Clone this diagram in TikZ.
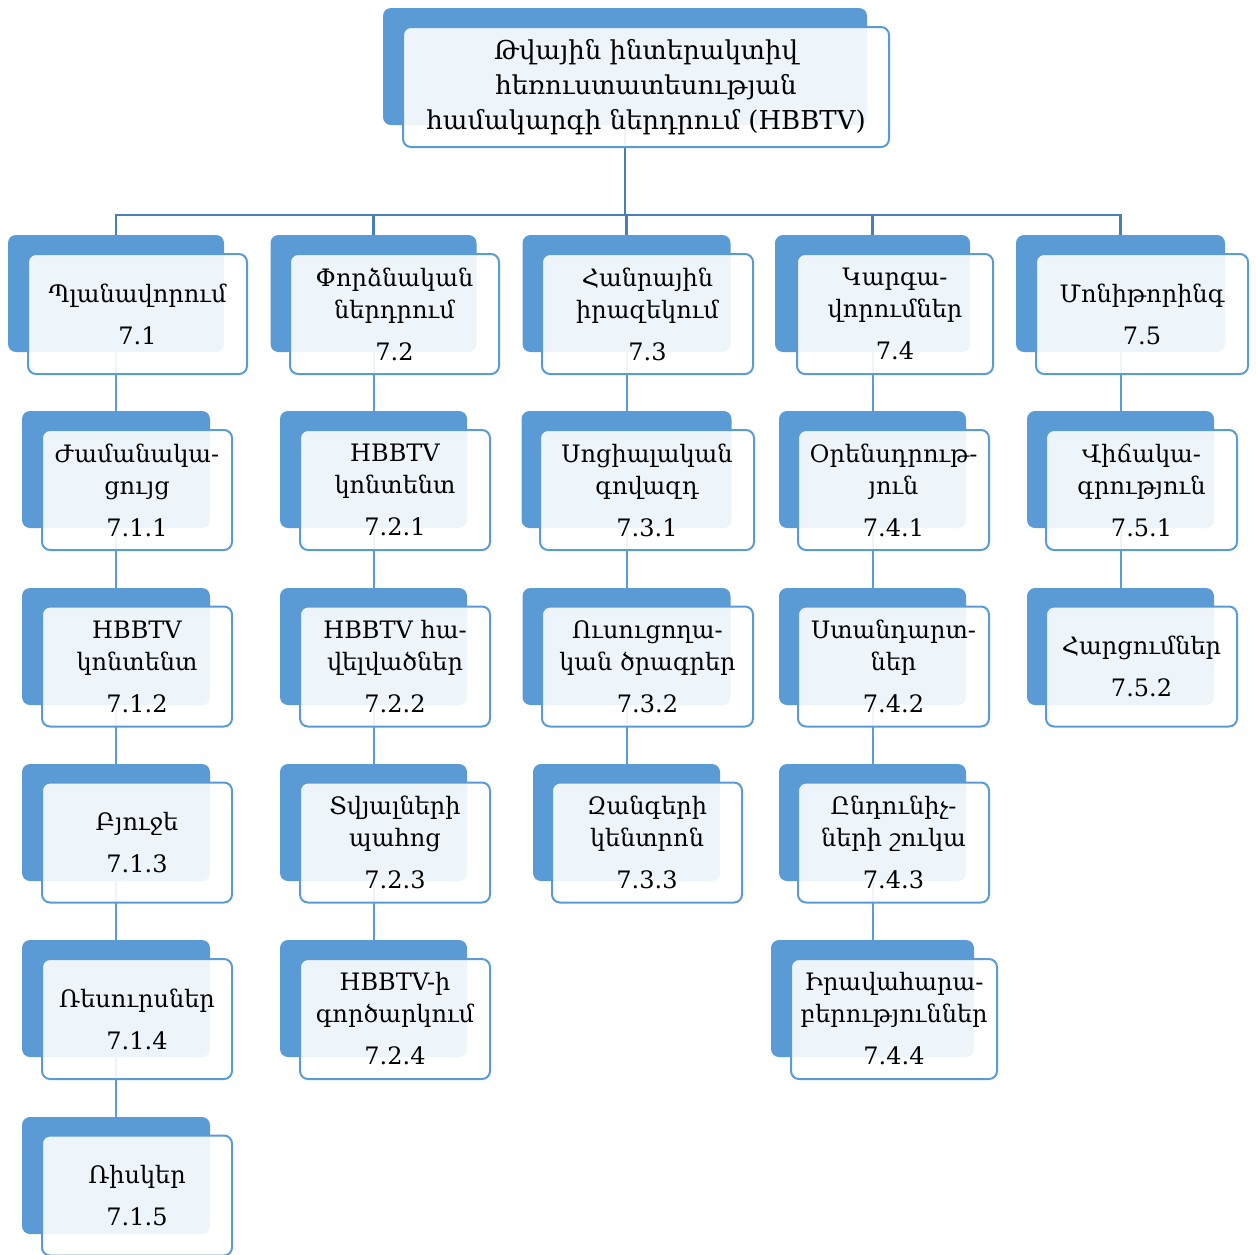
\documentclass[tikz,border=0pt]{standalone}
\usepackage{fontspec}
\setmainfont{DejaVu Serif}
\usetikzlibrary{backgrounds}
\definecolor{cardblue}{HTML}{5B9BD5}
\definecolor{busblue}{HTML}{4A7EBB}
\newcommand\cardfont{\fontsize{12}{16}\selectfont}
\newcommand\topfont{\fontsize{13}{17.5}\selectfont}

\begin{document}
\begin{tikzpicture}[x=0.5pt,y=-0.5pt,
  back/.style={fill=cardblue, rounded corners=4pt, minimum height=58.5pt, inner sep=0pt},
  front/.style={draw=cardblue, line width=1pt, fill=white, fill opacity=0.9, text opacity=1,
    rounded corners=4pt, minimum height=60pt, inner sep=0pt, align=center, font=\cardfont},
  link/.style={draw=cardblue, line width=1pt},
  bus/.style={draw=busblue, line width=1.4pt}]
\useasboundingbox (0,0) rectangle (1256,1254);
% top
\node[back, minimum width=242pt] (btop) at (625,66.5) {};
\node[front, minimum width=243pt, font=\topfont] (ftop) at (646,87) {Թվային ինտերակտիվ\\հեռուստատեսության\\համակարգի ներդրում (HBBTV)};
% level 1
\node[back, minimum width=108pt] (b71) at (116,293.5) {};
\node[front, minimum width=109.5pt] (f71) at (137.5,314) {Պլանավորում\\[5pt]7.1};
\node[back, minimum width=103pt] (b72) at (373.5,293.5) {};
\node[front, minimum width=104.5pt] (f72) at (394.5,314) {Փորձնական\\ներդրում\\[5pt]7.2};
\node[back, minimum width=104pt] (b73) at (626.5,293.5) {};
\node[front, minimum width=105.5pt] (f73) at (647.5,314) {Հանրային\\իրազեկում\\[5pt]7.3};
\node[back, minimum width=97.5pt] (b74) at (872.5,293.5) {};
\node[front, minimum width=98pt] (f74) at (895,314) {Կարգա-\\վորումներ\\[5pt]7.4};
\node[back, minimum width=104.5pt] (b75) at (1120.5,293.5) {};
\node[front, minimum width=106pt] (f75) at (1142,314) {Մոնիթորինգ\\[5pt]7.5};
% column 7.1
\node[back, minimum width=94pt] (b711) at (116,469.5) {};
\node[front, minimum width=95pt] (f711) at (137,490) {Ժամանակա-\\ցույց\\[5pt]7.1.1};
\node[back, minimum width=94pt] (b712) at (116,646.5) {};
\node[front, minimum width=95pt] (f712) at (137,666.5) {HBBTV\\կոնտենտ\\[5pt]7.1.2};
\node[back, minimum width=94pt] (b713) at (116,822.5) {};
\node[front, minimum width=95pt] (f713) at (137,842.5) {Բյուջե\\[5pt]7.1.3};
\node[back, minimum width=94pt] (b714) at (116,998.5) {};
\node[front, minimum width=95pt] (f714) at (137,1019) {Ռեսուրսներ\\[5pt]7.1.4};
\node[back, minimum width=94pt] (b715) at (116,1175.5) {};
\node[front, minimum width=95pt] (f715) at (137,1195.5) {Ռիսկեր\\[5pt]7.1.5};
% column 7.2
\node[back, minimum width=93.5pt] (b721) at (373.5,469.5) {};
\node[front, minimum width=95pt] (f721) at (395,490) {HBBTV\\կոնտենտ\\[5pt]7.2.1};
\node[back, minimum width=93.5pt] (b722) at (373.5,646.5) {};
\node[front, minimum width=95pt] (f722) at (395,666.5) {HBBTV հա-\\վելվածներ\\[5pt]7.2.2};
\node[back, minimum width=93.5pt] (b723) at (373.5,822.5) {};
\node[front, minimum width=95pt] (f723) at (395,842.5) {Տվյալների\\պահոց\\[5pt]7.2.3};
\node[back, minimum width=93.5pt] (b724) at (373.5,998.5) {};
\node[front, minimum width=95pt] (f724) at (395,1019) {HBBTV-ի\\գործարկում\\[5pt]7.2.4};
% column 7.3
\node[back, minimum width=105pt] (b731) at (626.5,469.5) {};
\node[front, minimum width=107pt] (f731) at (647,490) {Սոցիալական\\գովազդ\\[5pt]7.3.1};
\node[back, minimum width=104pt] (b732) at (626.5,646.5) {};
\node[front, minimum width=105.5pt] (f732) at (647.5,666.5) {Ուսուցողա-\\կան ծրագրեր\\[5pt]7.3.2};
\node[back, minimum width=93.5pt] (b733) at (626.5,822.5) {};
\node[front, minimum width=95pt] (f733) at (647,842.5) {Զանգերի\\կենտրոն\\[5pt]7.3.3};
% column 7.4
\node[back, minimum width=93.5pt] (b741) at (872.5,469.5) {};
\node[front, minimum width=95.5pt] (f741) at (893.5,490) {Օրենսդրութ-\\յուն\\[5pt]7.4.1};
\node[back, minimum width=93.5pt] (b742) at (872.5,646.5) {};
\node[front, minimum width=95.5pt] (f742) at (893.5,666.5) {Ստանդարտ-\\ներ\\[5pt]7.4.2};
\node[back, minimum width=93.5pt] (b743) at (872.5,822.5) {};
\node[front, minimum width=95.5pt] (f743) at (893.5,842.5) {Ընդունիչ-\\ների շուկա\\[5pt]7.4.3};
\node[back, minimum width=101.5pt] (b744) at (872.5,998.5) {};
\node[front, minimum width=103pt] (f744) at (894,1019) {Իրավահարա-\\բերություններ\\[5pt]7.4.4};
% column 7.5
\node[back, minimum width=93.5pt] (b751) at (1120.5,469.5) {};
\node[front, minimum width=95.5pt] (f751) at (1141.5,490) {Վիճակա-\\գրություն\\[5pt]7.5.1};
\node[back, minimum width=93.5pt] (b752) at (1120.5,646.5) {};
\node[front, minimum width=95.5pt] (f752) at (1141.5,666.5) {Հարցումներ\\[5pt]7.5.2};
% connectors
\begin{scope}[on background layer]
\coordinate (bus) at (625,215);
\draw[bus] (btop.south) -- (bus);
\draw[bus] (b71.north) |- (bus);
\draw[bus] (b72.north) |- (bus);
\draw[bus] (b73.north) |- (bus);
\draw[bus] (b74.north) |- (bus);
\draw[bus] (b75.north) |- (bus);
\draw[link] (b71.south) -- (b711.north);
\draw[link] (b711.south) -- (b712.north);
\draw[link] (b712.south) -- (b713.north);
\draw[link] (b713.south) -- (b714.north);
\draw[link] (b714.south) -- (b715.north);
\draw[link] (b72.south) -- (b721.north);
\draw[link] (b721.south) -- (b722.north);
\draw[link] (b722.south) -- (b723.north);
\draw[link] (b723.south) -- (b724.north);
\draw[link] (b73.south) -- (b731.north);
\draw[link] (b731.south) -- (b732.north);
\draw[link] (b732.south) -- (b733.north);
\draw[link] (b74.south) -- (b741.north);
\draw[link] (b741.south) -- (b742.north);
\draw[link] (b742.south) -- (b743.north);
\draw[link] (b743.south) -- (b744.north);
\draw[link] (b75.south) -- (b751.north);
\draw[link] (b751.south) -- (b752.north);
\end{scope}
\end{tikzpicture}
\end{document}
